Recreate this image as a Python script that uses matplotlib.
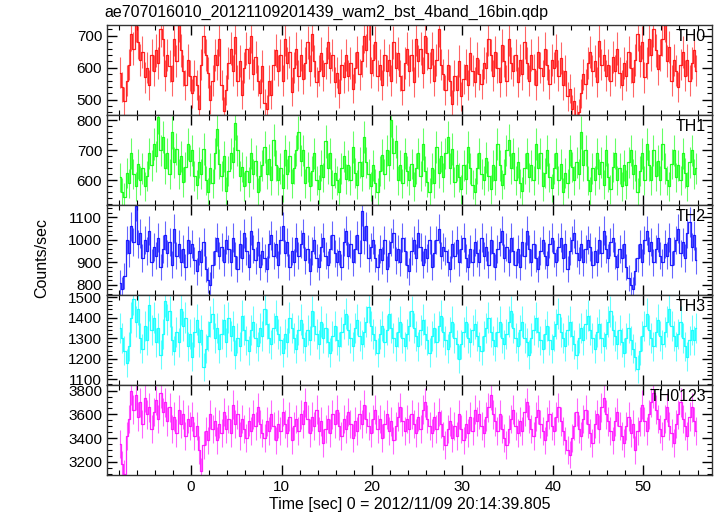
import numpy as np
import matplotlib
matplotlib.use("Agg")
import matplotlib.pyplot as plt
from matplotlib.ticker import MultipleLocator

plt.rcParams['font.family'] = ['Liberation Sans', 'DejaVu Sans']

title = "ae707016010_20121109201439_wam2_bst_4band_16bin.qdp"
xlabel = "Time [sec] 0 = 2012/11/09 20:14:39.805"
ylabel = "Counts/sec"
bin_width = 0.25
t_start = -8.0

band_names = ["TH0", "TH1", "TH2", "TH3", "TH0123"]
band_colors = ["#ff0000", "#00ff00", "#0000ff", "#00ffff", "#ff00ff"]

th0 = [585, 540, 495, 560, 610, 705, 660, 735, 680, 625, 650, 570, 600, 545, 640, 590,
       655, 615, 720, 690, 575, 640, 605, 560, 690, 620, 735, 655, 590, 545, 625, 575,
       520, 575, 545, 470, 610, 700, 640, 585, 500, 560, 640, 610, 690, 545, 465, 530,
       615, 660, 590, 695, 560, 620, 515, 600, 660, 615, 700, 580, 635, 560, 520, 605,
       490, 470, 560, 515, 610, 655, 590, 640, 560, 690, 615, 650, 525, 600, 660, 575,
       640, 565, 615, 680, 590, 705, 620, 555, 590, 645, 575, 615, 680, 600, 640, 555,
       585, 520, 610, 570, 640, 575, 615, 535, 600, 650, 580, 620, 700, 655, 740, 585,
       625, 680, 575, 610, 545, 640, 590, 625, 560, 680, 600, 645, 575, 530, 615, 660,
       590, 640, 555, 690, 620, 660, 585, 700, 645, 600, 660, 560, 625, 720, 610, 580,
       530, 610, 560, 485, 575, 530, 620, 510, 565, 610, 545, 645, 590, 555, 630, 580,
       550, 615, 600, 690, 640, 575, 650, 600, 555, 670, 620, 560, 690, 615, 590, 640,
       555, 625, 580, 680, 615, 560, 640, 595, 545, 650, 600, 575, 660, 610, 550, 625,
       600, 655, 575, 630, 545, 590, 510, 535, 470, 495, 440, 460, 520, 580, 550, 615,
       650, 590, 620, 555, 685, 610, 640, 575, 610, 560, 635, 590, 660, 585, 545, 615,
       575, 650, 600, 555, 625, 705, 620, 680, 570, 615, 690, 640, 720, 655, 595, 640,
       690, 735, 620, 665, 560, 625, 590, 540, 610, 650, 575, 625, 560, 615, 655, 590]
th1 = [610, 560, 545, 625, 590, 690, 620, 580, 655, 600, 640, 580, 615, 690, 650, 720,
       680, 810, 700, 745, 640, 690, 620, 760, 660, 705, 620, 680, 595, 645, 720, 665,
       700, 615, 585, 660, 620, 705, 600, 560, 640, 590, 690, 770, 655, 615, 680, 565,
       630, 690, 660, 790, 700, 615, 645, 580, 630, 595, 690, 620, 665, 560, 615, 650,
       710, 620, 670, 600, 735, 650, 600, 640, 575, 700, 620, 680, 590, 640, 700, 760,
       665, 700, 590, 645, 580, 630, 690, 600, 570, 650, 610, 730, 640, 690, 585, 625,
       600, 560, 640, 680, 605, 650, 600, 710, 625, 585, 660, 615, 745, 660, 620, 580,
       650, 590, 560, 630, 685, 620, 700, 650, 800, 690, 730, 600, 650, 590, 690, 630,
       600, 655, 580, 640, 690, 615, 720, 630, 595, 560, 640, 590, 710, 625, 680, 610,
       690, 745, 640, 705, 595, 650, 610, 570, 650, 605, 710, 640, 585, 560, 640, 690,
       620, 600, 675, 615, 570, 650, 600, 720, 650, 585, 620, 700, 735, 640, 690, 600,
       660, 590, 565, 640, 690, 610, 650, 600, 720, 640, 690, 580, 625, 700, 610, 575,
       640, 690, 600, 655, 560, 625, 590, 700, 645, 600, 660, 620, 760, 650, 700, 600,
       565, 640, 600, 690, 620, 660, 585, 700, 610, 570, 645, 690, 600, 640, 580, 650,
       585, 660, 700, 620, 650, 560, 630, 690, 600, 720, 650, 600, 700, 615, 665, 600,
       720, 640, 600, 580, 655, 700, 610, 650, 600, 690, 625, 580, 660, 700, 620, 640]
th2 = [810, 780, 840, 1000, 940, 1060, 990, 1150, 980, 1030, 920, 1000, 950, 1040, 900, 970,
       930, 1010, 880, 960, 1020, 940, 990, 890, 1050, 930, 980, 900, 960, 880, 1000, 940,
       980, 910, 860, 950, 900, 990, 870, 820, 800, 890, 950, 1010, 930, 970, 900, 1000,
       960, 900, 1010, 930, 870, 980, 920, 1030, 950, 880, 1040, 960, 910, 990, 880, 950,
       920, 870, 980, 1020, 930, 980, 890, 1000, 1060, 940, 990, 880, 950, 900, 1010, 930,
       980, 1030, 910, 960, 860, 950, 1000, 920, 880, 970, 1010, 930, 890, 960, 1020, 940,
       900, 950, 880, 990, 1040, 930, 980, 900, 960, 1020, 940, 1130, 1000, 1060, 920, 970,
       1000, 920, 880, 960, 910, 1000, 870, 940, 990, 1030, 910, 960, 900, 1010, 950, 890,
       860, 950, 1000, 920, 1030, 970, 890, 960, 920, 1000, 880, 940, 1000, 1050, 930, 970,
       950, 900, 870, 980, 930, 1000, 900, 960, 1010, 920, 880, 960, 900, 990, 940, 900,
       1010, 930, 970, 890, 1000, 940, 880, 960, 990, 1040, 920, 970, 900, 1010, 950, 890,
       960, 880, 990, 930, 1040, 960, 900, 980, 920, 870, 950, 1000, 930, 890, 980, 1010,
       940, 900, 970, 1010, 920, 980, 870, 950, 1000, 1030, 940, 910, 980, 900, 960, 1000,
       970, 890, 950, 900, 1000, 940, 1040, 960, 920, 990, 1010, 930, 880, 960, 920, 980,
       880, 830, 800, 780, 860, 920, 980, 900, 1000, 1040, 950, 990, 900, 960, 1010, 930,
       900, 980, 930, 1010, 890, 950, 1000, 1050, 940, 990, 920, 1030, 1080, 970, 1020, 910]
th3 = [1350, 1300, 1240, 1180, 1260, 1400, 1490, 1380, 1440, 1300, 1250, 1360, 1290, 1460, 1340, 1400,
       1280, 1350, 1220, 1320, 1480, 1390, 1430, 1290, 1240, 1330, 1280, 1440, 1360, 1400, 1260, 1320,
       1210, 1330, 1390, 1280, 1340, 1160, 1250, 1310, 1380, 1420, 1300, 1350, 1250, 1320, 1390, 1280,
       1400, 1310, 1360, 1220, 1300, 1260, 1410, 1340, 1290, 1240, 1340, 1380, 1300, 1260, 1350, 1310,
       1440, 1370, 1300, 1270, 1350, 1410, 1320, 1290, 1230, 1320, 1280, 1400, 1350, 1300, 1250, 1340,
       1390, 1300, 1260, 1340, 1290, 1430, 1360, 1320, 1270, 1380, 1300, 1350, 1280, 1230, 1310, 1360,
       1290, 1260, 1330, 1370, 1420, 1340, 1300, 1260, 1350, 1390, 1310, 1270, 1330, 1380, 1450, 1360,
       1320, 1290, 1230, 1320, 1360, 1280, 1340, 1420, 1350, 1300, 1260, 1330, 1380, 1300, 1260, 1320,
       1360, 1430, 1350, 1310, 1260, 1340, 1390, 1320, 1290, 1230, 1310, 1350, 1280, 1360, 1410, 1330,
       1290, 1250, 1330, 1380, 1300, 1270, 1200, 1270, 1330, 1380, 1300, 1280, 1340, 1370, 1310, 1260,
       1240, 1310, 1350, 1400, 1330, 1290, 1260, 1330, 1380, 1300, 1270, 1320, 1380, 1430, 1350, 1300,
       1260, 1340, 1380, 1300, 1280, 1220, 1300, 1340, 1400, 1330, 1290, 1250, 1320, 1360, 1290, 1250,
       1310, 1370, 1420, 1330, 1300, 1260, 1340, 1380, 1310, 1270, 1220, 1300, 1350, 1290, 1370, 1410,
       1340, 1300, 1250, 1330, 1370, 1300, 1260, 1320, 1380, 1430, 1340, 1310, 1270, 1340, 1280, 1230,
       1300, 1350, 1290, 1250, 1210, 1150, 1240, 1310, 1360, 1420, 1340, 1300, 1260, 1330, 1390, 1310,
       1270, 1330, 1380, 1440, 1360, 1310, 1260, 1320, 1380, 1300, 1260, 1210, 1290, 1340, 1290, 1350]
th0123 = [3350, 3180, 3100, 3420, 3560, 3800, 3640, 3760, 3580, 3700, 3520, 3740, 3600, 3660, 3480, 3620,
          3720, 3560, 3780, 3620, 3700, 3540, 3660, 3480, 3580, 3440, 3640, 3520, 3600, 3420, 3560, 3500,
          3580, 3420, 3500, 3300, 3120, 3340, 3460, 3380, 3600, 3480, 3540, 3380, 3520, 3440, 3620, 3480,
          3560, 3440, 3680, 3520, 3600, 3420, 3560, 3480, 3400, 3540, 3460, 3600, 3500, 3660, 3520, 3440,
          3400, 3540, 3460, 3600, 3500, 3380, 3520, 3460, 3620, 3520, 3440, 3580, 3380, 3500, 3560, 3460,
          3600, 3520, 3700, 3560, 3440, 3580, 3500, 3640, 3460, 3540, 3360, 3480, 3560, 3440, 3600, 3520,
          3640, 3500, 3420, 3560, 3480, 3620, 3520, 3400, 3540, 3460, 3600, 3520, 3680, 3560, 3500, 3440,
          3560, 3640, 3480, 3560, 3400, 3520, 3600, 3460, 3540, 3380, 3500, 3580, 3660, 3540, 3460, 3560,
          3480, 3600, 3520, 3440, 3580, 3480, 3640, 3700, 3560, 3500, 3440, 3580, 3480, 3620, 3520, 3420,
          3340, 3480, 3540, 3400, 3500, 3420, 3600, 3480, 3380, 3520, 3440, 3580, 3460, 3640, 3540, 3600,
          3500, 3440, 3580, 3660, 3760, 3600, 3540, 3460, 3600, 3480, 3400, 3340, 3480, 3560, 3640, 3500,
          3440, 3540, 3460, 3620, 3700, 3560, 3480, 3420, 3580, 3640, 3520, 3460, 3380, 3540, 3600, 3500,
          3460, 3580, 3660, 3540, 3460, 3380, 3300, 3260, 3400, 3500, 3620, 3480, 3420, 3560, 3640, 3520,
          3440, 3360, 3520, 3600, 3480, 3660, 3740, 3600, 3540, 3460, 3380, 3540, 3620, 3500, 3420, 3360,
          3500, 3580, 3440, 3520, 3300, 3460, 3540, 3680, 3540, 3460, 3600, 3700, 3780, 3640, 3560, 3480,
          3420, 3560, 3660, 3500, 3440, 3360, 3520, 3600, 3700, 3560, 3500, 3420, 3580, 3660, 3540, 3460]

series = [th0, th1, th2, th3, th0123]
ylims = [(452, 734), (518, 818), (755, 1155), (1073, 1510), (3089, 3847)]
major_steps = [100, 100, 100, 100, 200]
minor_steps = [20, 20, 20, 20, 50]
xlim = (-9.3, 57.6)

fig = plt.figure(figsize=(7.17, 5.16), dpi=100)
left, right = 107 / 717, 712 / 717
top, bottom = 1 - 25 / 516, 1 - 475 / 516
h = (top - bottom) / 5

for k, (vals, name, col) in enumerate(zip(series, band_names, band_colors)):
    ax = fig.add_axes([left, top - (k + 1) * h, right - left, h])
    y = np.array(vals, dtype=float)
    t = t_start + bin_width * (np.arange(len(y)) + 0.5)
    err = np.sqrt(y / bin_width)
    ax.errorbar(t, y, yerr=err, fmt='none', ecolor=col, elinewidth=0.8, alpha=0.6)
    ax.step(t, y, where='mid', color=col, lw=0.9, alpha=0.85)
    ax.set_xlim(*xlim)
    ax.set_ylim(*ylims[k])
    ax.xaxis.set_major_locator(MultipleLocator(10))
    ax.xaxis.set_minor_locator(MultipleLocator(2))
    ax.yaxis.set_major_locator(MultipleLocator(major_steps[k]))
    ax.yaxis.set_minor_locator(MultipleLocator(minor_steps[k]))
    ax.tick_params(which='both', direction='in', top=True, right=True, labelsize=11)
    ax.tick_params(which='major', length=7, width=1)
    ax.tick_params(which='minor', length=3.5, width=0.8)
    for s in ax.spines.values():
        s.set_linewidth(1.0)
        s.set_color('#333333')
    ax.text(0.99, 0.96, name, transform=ax.transAxes, ha='right', va='top', fontsize=11.5)
    if k < 4:
        ax.tick_params(labelbottom=False)
    else:
        ax.set_xlabel(xlabel, fontsize=11.5, labelpad=2)

fig.text(104 / 717, 1 - 12 / 516, title, ha='left', va='center', fontsize=11.5)
fig.text(42 / 717, 0.5, ylabel, rotation=90, ha='center', va='center', fontsize=11.5)

fig.savefig("out.png", dpi=100)
